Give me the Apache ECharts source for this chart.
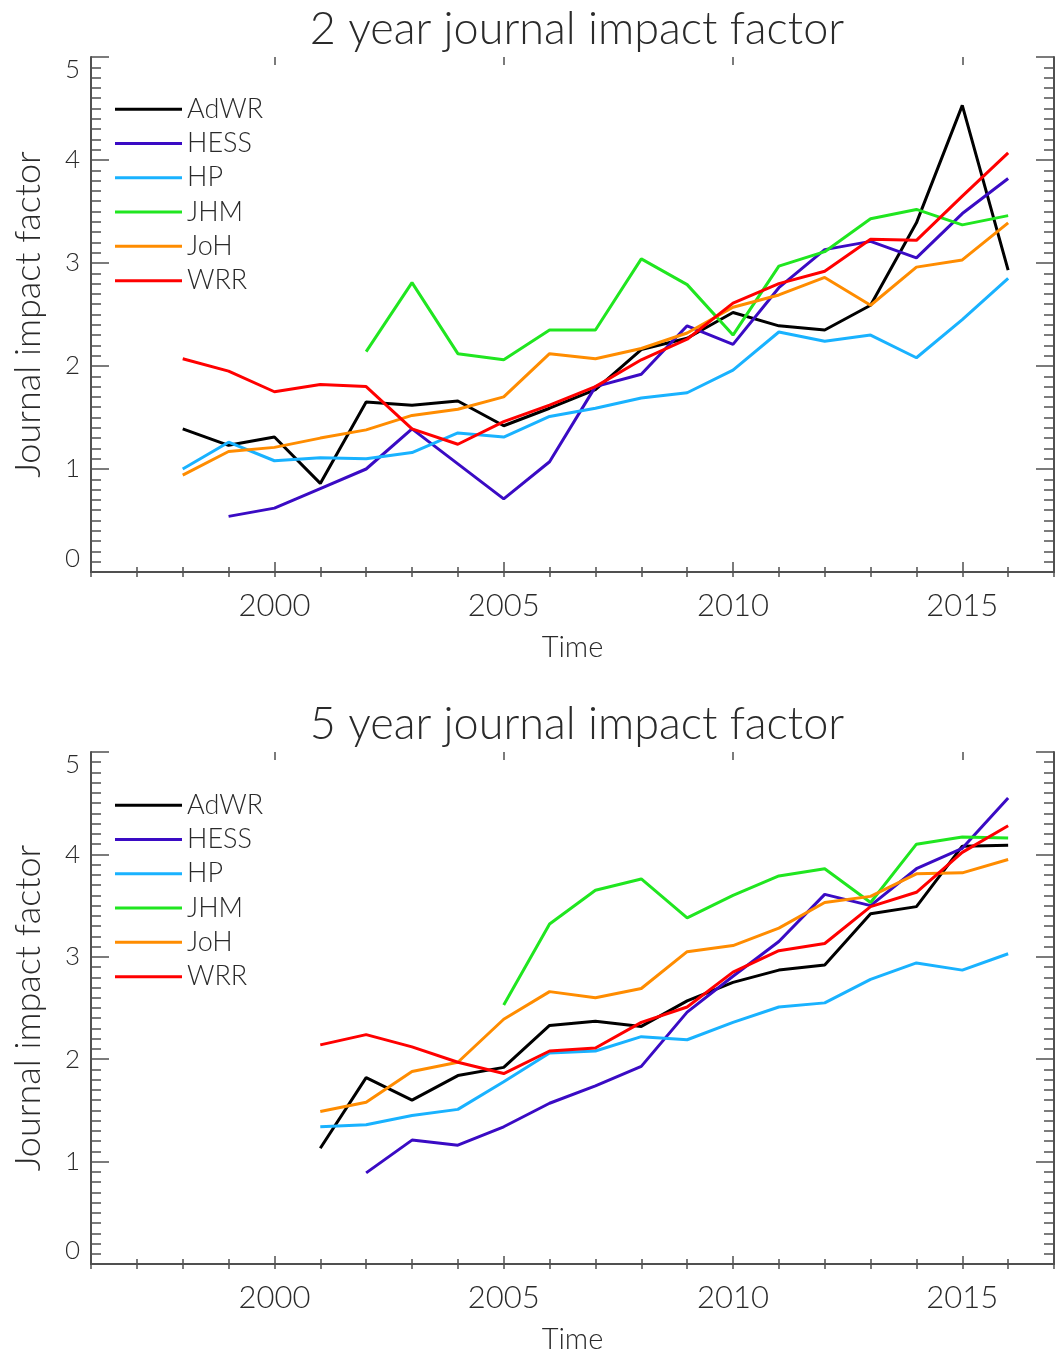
<!DOCTYPE html>
<html>
<head>
<meta charset="utf-8">
<script src="https://cdn.jsdelivr.net/npm/echarts@6/dist/echarts.min.js"></script>
<style>
html,body{margin:0;padding:0;background:#fff;}
#chart{width:1060px;height:1355px;}
</style>
</head>
<body>
<div id="chart"></div>
<script>
// ---- Data ----
const journals = ['AdWR', 'HESS', 'HP', 'JHM', 'JoH', 'WRR'];
const colors = ['#000000', '#3a0bc4', '#19b2ff', '#20e620', '#ff8c00', '#ff0000'];

const years2 = [1998, 1999, 2000, 2001, 2002, 2003, 2004, 2005, 2006, 2007, 2008, 2009, 2010, 2011, 2012, 2013, 2014, 2015, 2016];
const adwr2 = [1.39, 1.23, 1.31, 0.86, 1.65, 1.62, 1.66, 1.42, 1.59, 1.77, 2.16, 2.27, 2.52, 2.39, 2.35, 2.59, 3.39, 4.53, 2.93];
const hess2 = [null, 0.54, 0.62, 0.81, 1.00, 1.39, 1.05, 0.71, 1.07, 1.80, 1.92, 2.39, 2.21, 2.76, 3.13, 3.21, 3.05, 3.48, 3.82];
const hp2   = [1.00, 1.26, 1.08, 1.11, 1.10, 1.16, 1.35, 1.31, 1.51, 1.59, 1.69, 1.74, 1.96, 2.33, 2.24, 2.30, 2.08, 2.45, 2.85];
const jhm2  = [null, null, null, null, 2.14, 2.81, 2.12, 2.06, 2.35, 2.35, 3.04, 2.79, 2.30, 2.97, 3.11, 3.43, 3.52, 3.37, 3.46];
const joh2  = [0.94, 1.17, 1.21, 1.30, 1.38, 1.52, 1.58, 1.70, 2.12, 2.07, 2.17, 2.32, 2.57, 2.69, 2.86, 2.59, 2.96, 3.03, 3.39];
const wrr2  = [2.07, 1.95, 1.75, 1.82, 1.80, 1.39, 1.24, 1.46, 1.62, 1.80, 2.06, 2.26, 2.61, 2.80, 2.92, 3.23, 3.22, 3.65, 4.07];

const years5 = [2001, 2002, 2003, 2004, 2005, 2006, 2007, 2008, 2009, 2010, 2011, 2012, 2013, 2014, 2015, 2016];
const adwr5 = [1.13, 1.82, 1.60, 1.84, 1.92, 2.33, 2.37, 2.32, 2.57, 2.75, 2.87, 2.92, 3.42, 3.49, 4.08, 4.09];
const hess5 = [null, 0.89, 1.21, 1.16, 1.34, 1.57, 1.74, 1.93, 2.46, 2.81, 3.15, 3.61, 3.50, 3.86, 4.06, 4.55];
const hp5   = [1.34, 1.36, 1.45, 1.51, 1.78, 2.06, 2.08, 2.22, 2.19, 2.36, 2.51, 2.55, 2.78, 2.94, 2.87, 3.03];
const jhm5  = [null, null, null, null, 2.53, 3.32, 3.65, 3.76, 3.38, 3.60, 3.79, 3.86, 3.53, 4.10, 4.17, 4.16];
const joh5  = [1.49, 1.58, 1.88, 1.97, 2.39, 2.66, 2.60, 2.69, 3.05, 3.11, 3.28, 3.53, 3.59, 3.81, 3.82, 3.95];
const wrr5  = [2.14, 2.24, 2.12, 1.97, 1.86, 2.08, 2.11, 2.36, 2.51, 2.85, 3.06, 3.13, 3.49, 3.63, 4.02, 4.28];

const xLabelYears = [2000, 2005, 2010, 2015];
const titles = ['2 year journal impact factor', '5 year journal impact factor'];

// ---- Chart ----
const FONT = "Lato, 'Liberation Sans', sans-serif";
const FW = 300;
const TXT = '#2a2a2a';
const AX = '#505050';

function pairs(years, vals) {
  return years.map((y, i) => [y, vals[i]]).filter(p => p[1] !== null);
}

const panels = [
  { top: 57, height: 515, years: years2, vals: [adwr2, hess2, hp2, jhm2, joh2, wrr2], legendTop: 92, titleTop: 2 },
  { top: 752, height: 514, years: years5, vals: [adwr5, hess5, hp5, jhm5, joh5, wrr5], legendTop: 788, titleTop: 697 }
];

const grid = [], xAxis = [], yAxis = [], series = [], legend = [], title = [];

panels.forEach((p, k) => {
  const g0 = grid.length;
  grid.push({ left: 91, top: p.top, width: 963, height: p.height });
  grid.push({ left: 91, top: p.top, width: 963, height: p.height });
  const line = { show: true, lineStyle: { color: AX, width: 2 } };
  const xMain = xAxis.length;
  xAxis.push({
    type: 'value', gridIndex: g0, position: 'bottom', min: 1996, max: 2017, interval: 1,
    axisLine: line, splitLine: { show: false },
    axisTick: { show: true, inside: true, length: 5, lineStyle: { color: AX, width: 1.5 } },
    axisLabel: { show: true, margin: 18, fontSize: 31, fontFamily: FONT, fontWeight: FW, color: TXT,
      formatter: v => (xLabelYears.indexOf(v) >= 0 ? String(v) : '') },
    name: 'Time', nameLocation: 'middle', nameGap: 61,
    nameTextStyle: { fontSize: 29, fontFamily: FONT, fontWeight: FW, color: TXT }
  });
  xAxis.push({
    type: 'value', gridIndex: g0, position: 'top', min: 1996, max: 2017, interval: 1,
    axisLine: line, splitLine: { show: false },
    axisTick: { show: true, inside: true, length: 5, lineStyle: { color: AX, width: 1.5 } },
    axisLabel: { show: false }
  });
  xAxis.push({
    type: 'value', gridIndex: g0 + 1, position: 'bottom', min: 1996, max: 2017,
    axisLine: { show: false }, splitLine: { show: false },
    axisTick: { show: true, inside: true, length: 10, customValues: xLabelYears, lineStyle: { color: AX, width: 1.5 } },
    axisLabel: { show: false }
  });
  xAxis.push({
    type: 'value', gridIndex: g0 + 1, position: 'top', min: 1996, max: 2017,
    axisLine: { show: false }, splitLine: { show: false },
    axisTick: { show: true, inside: true, length: 8, customValues: xLabelYears, lineStyle: { color: AX, width: 1.5 } },
    axisLabel: { show: false }
  });
  const yMain = yAxis.length;
  const ticks = { show: true, inside: true, length: 18, lineStyle: { color: AX, width: 1.5 } };
  const minor = { show: true, splitNumber: 10, length: 10, lineStyle: { color: AX, width: 1.5 } };
  yAxis.push({
    type: 'value', gridIndex: g0, position: 'left', min: 0, max: 5, interval: 1,
    axisLine: line, splitLine: { show: false }, minorSplitLine: { show: false },
    axisTick: ticks, minorTick: minor,
    axisLabel: { show: true, margin: 11, fontSize: 26, fontFamily: FONT, fontWeight: FW, color: TXT,
      verticalAlignMinLabel: 'bottom', verticalAlignMaxLabel: 'top' },
    name: 'Journal impact factor', nameLocation: 'middle', nameGap: 45,
    nameTextStyle: { fontSize: 36, fontFamily: FONT, fontWeight: FW, color: TXT }
  });
  yAxis.push({
    type: 'value', gridIndex: g0, position: 'right', min: 0, max: 5, interval: 1,
    axisLine: line, splitLine: { show: false }, minorSplitLine: { show: false },
    axisTick: ticks, minorTick: minor, axisLabel: { show: false }
  });
  yAxis.push({ type: 'value', gridIndex: g0 + 1, min: 0, max: 5, show: false });

  journals.forEach((name, j) => {
    series.push({
      type: 'line', name: name, xAxisIndex: xMain, yAxisIndex: yMain,
      data: pairs(p.years, p.vals[j]),
      showSymbol: false, symbol: 'none', animation: false,
      lineStyle: { color: colors[j], width: 3 }, itemStyle: { color: colors[j] }
    });
  });

  legend.push({
    data: journals, orient: 'vertical', left: 115, top: p.legendTop, padding: 0,
    itemGap: 0, itemWidth: 67, itemHeight: 3, icon: 'rect', selectedMode: false,
    textStyle: { fontSize: 27, fontFamily: FONT, fontWeight: FW, color: TXT, lineHeight: 34.3, padding: [0, 0, 0, 0] }
  });

  title.push({
    text: titles[k], left: 572, top: p.titleTop, textAlign: 'center',
    textStyle: { fontSize: 45, fontWeight: FW, fontFamily: FONT, color: TXT }
  });
});

const chart = echarts.init(document.getElementById('chart'), null, { renderer: 'canvas' });
chart.setOption({
  backgroundColor: '#ffffff',
  animation: false,
  title, grid, xAxis, yAxis, series, legend
});
</script>
</body>
</html>
